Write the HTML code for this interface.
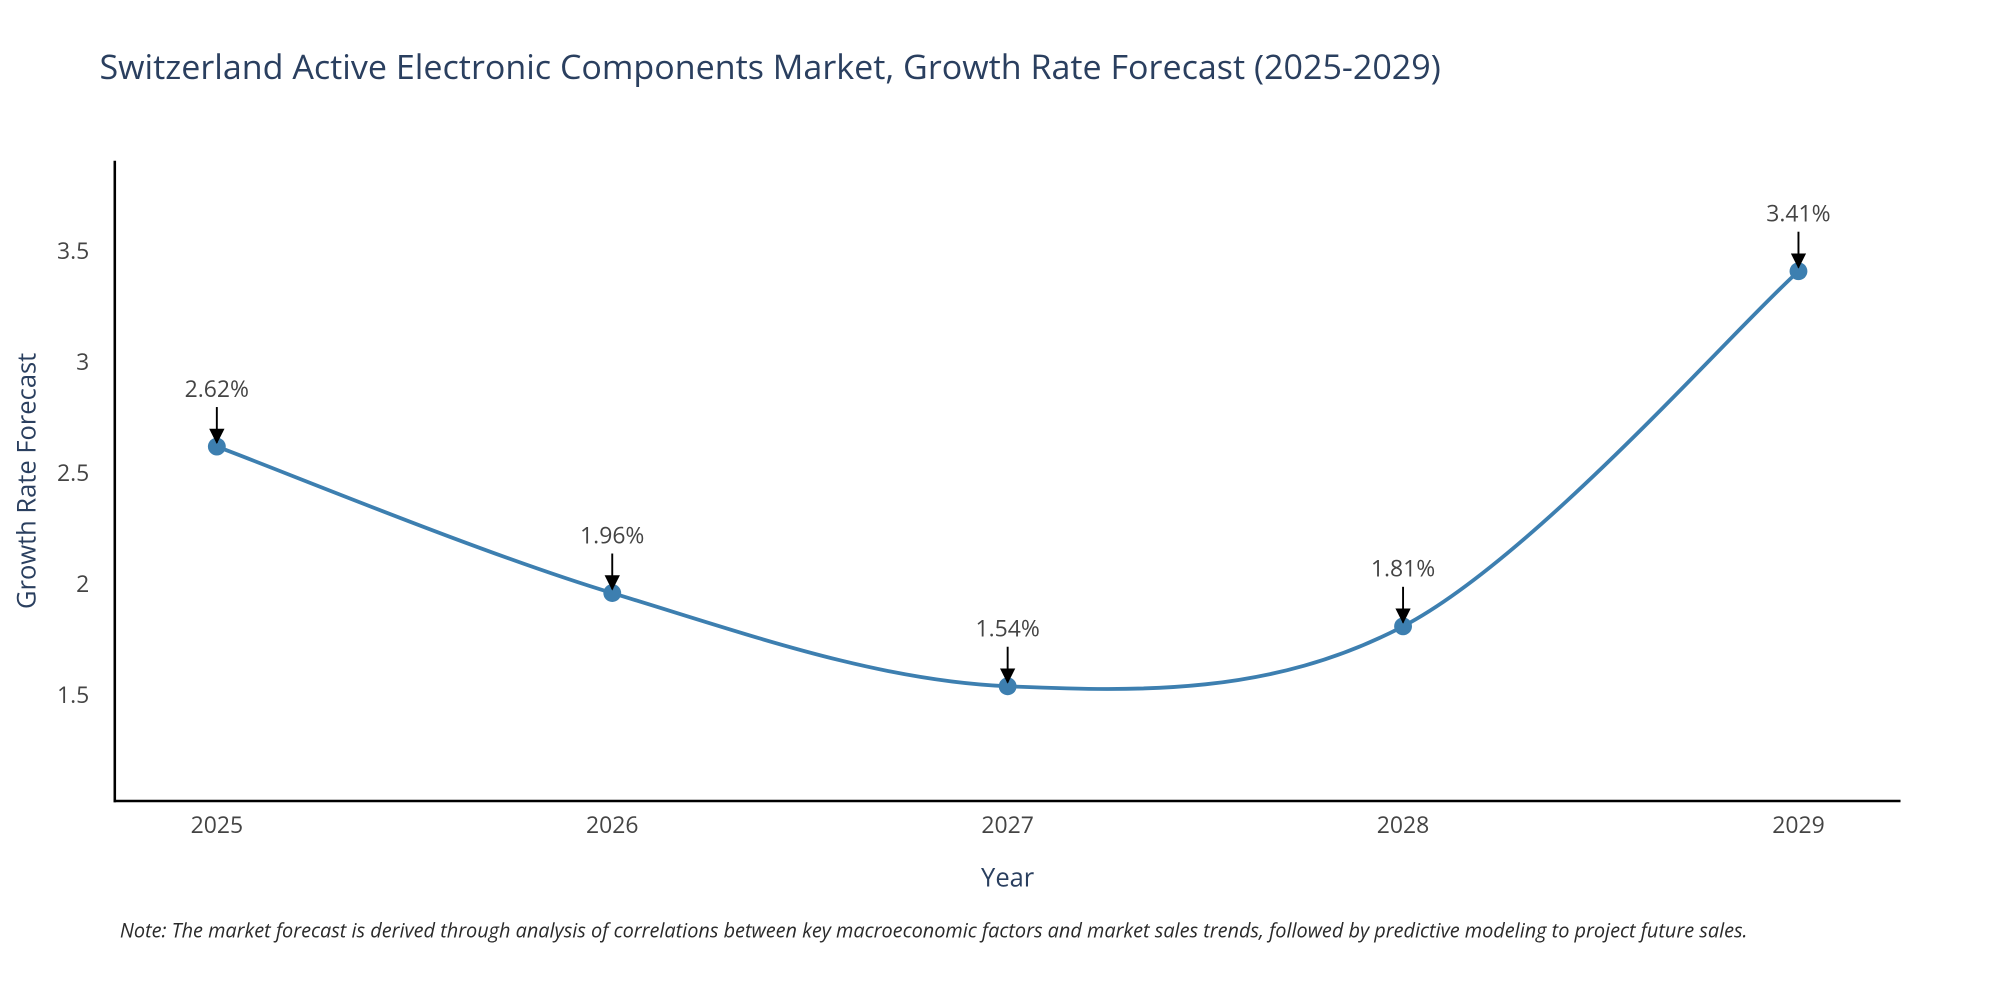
<!DOCTYPE html>
<html><head><meta charset="utf-8">
<style>
html,body{margin:0;padding:0;background:#fff;width:2000px;height:1000px;overflow:hidden}
svg{display:block;font-family:"Open Sans","Liberation Sans",sans-serif}
</style></head>
<body>
<svg id="chart" width="2000" height="1000" viewBox="0 0 1568 784" preserveAspectRatio="none" xmlns="http://www.w3.org/2000/svg">
<defs><marker id="ah" markerWidth="12" markerHeight="12" refX="11" refY="6" orient="auto" markerUnits="userSpaceOnUse" viewBox="0 0 12 12"><path d="M0,0 L12,6 L0,12 Z" fill="#000"/></marker></defs>
<text x="78" y="62" font-size="26.7" fill="#2a3f5f">Switzerland Active Electronic Components Market, Growth Rate Forecast (2025-2029)</text>
<g id="yticks"></g>
<g id="xticks"></g>
<line x1="90" y1="126" x2="90" y2="629" stroke="#000" stroke-width="2"/>
<line x1="89" y1="628" x2="1490" y2="628" stroke="#000" stroke-width="2"/>
<text transform="translate(28,377) rotate(-90)" text-anchor="middle" font-size="20" fill="#2a3f5f">Growth Rate Forecast</text>
<text x="790" y="695" text-anchor="middle" font-size="20" fill="#2a3f5f">Year</text>
<g id="series"></g>
<g id="annots"></g>
<text x="94" y="735" font-size="15.6" font-style="italic" fill="#2a2a2a">Note: The market forecast is derived through analysis of correlations between key macroeconomic factors and market sales trends, followed by predictive modeling to project future sales.</text>
</svg>
<script>
const years = [2025, 2026, 2027, 2028, 2029];
const values = [2.62, 1.96, 1.54, 1.81, 3.41];
const valueLabels = ["2.62%", "1.96%", "1.54%", "1.81%", "3.41%"];
const yTicks = [1.5, 2, 2.5, 3, 3.5];
const yTickLabels = ["1.5", "2", "2.5", "3", "3.5"];

const NS = "http://www.w3.org/2000/svg";
function xs(yr){ return 170 + (yr - years[0]) * 310; }
function ys(v){ return 545 - (v - 1.5) * 174; }
function mk(tag, attrs, parent){ const e = document.createElementNS(NS, tag); for (const k in attrs) e.setAttribute(k, attrs[k]); parent.appendChild(e); return e; }

const yg = document.getElementById('yticks');
yTicks.forEach((t, i) => {
  const el = mk('text', {x: 70, y: ys(t) + 6, 'text-anchor': 'end', 'font-size': 18, fill: '#444'}, yg);
  
  
  el.textContent = yTickLabels[i];
});
const xg = document.getElementById('xticks');
years.forEach(yr => {
  const el = mk('text', {x: xs(yr), y: 653, 'text-anchor': 'middle', 'font-size': 18, fill: '#444'}, xg);
  
  
  el.textContent = String(yr);
});

const pts = years.map((yr, i) => [xs(yr), ys(values[i])]);
let d = `M${pts[0][0]},${pts[0][1]}`;
for (let i = 0; i < pts.length - 1; i++) {
  const p0 = pts[i - 1] || pts[i], p1 = pts[i], p2 = pts[i + 1], p3 = pts[i + 2] || p2;
  const c1 = [p1[0] + (p2[0] - p0[0]) / 6, p1[1] + (p2[1] - p0[1]) / 6];
  const c2 = [p2[0] - (p3[0] - p1[0]) / 6, p2[1] - (p3[1] - p1[1]) / 6];
  d += ` C${c1[0]},${c1[1]} ${c2[0]},${c2[1]} ${p2[0]},${p2[1]}`;
}
const sg = document.getElementById('series');
const line = mk('path', {d: d, fill: 'none', stroke: '#3d7fb0', 'stroke-width': 3}, sg);


pts.forEach(p => {
  const c = mk('circle', {cx: p[0], cy: p[1], r: 7, fill: '#3d7fb0'}, sg);
  
  
});

const ag = document.getElementById('annots');
pts.forEach((p, i) => {
  const a = mk('line', {x1: p[0], y1: p[1] - 31, x2: p[0], y2: p[1] - 3, stroke: '#000', 'stroke-width': 1.5, 'marker-end': 'url(#ah)'}, ag);
  
  
  const t = mk('text', {x: p[0], y: p[1] - 39, 'text-anchor': 'middle', 'font-size': 18, fill: '#444'}, ag);
  
  
  t.textContent = valueLabels[i];
});
</script>
</body></html>
